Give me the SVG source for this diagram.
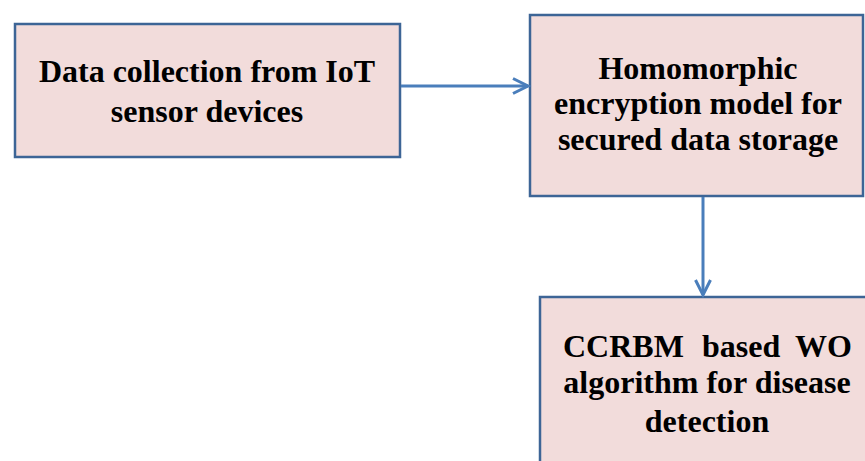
<svg xmlns="http://www.w3.org/2000/svg" width="865" height="461" viewBox="0 0 865 461">
  <style>
    .box { fill: #f2dcdb; stroke: #3d6596; stroke-width: 2.5; }
    .lbl { font-family: "Liberation Serif", "Times New Roman", serif; font-weight: bold; font-size: 32px; fill: #000; }
    .mid { text-anchor: middle; }
    .edge { fill: none; stroke: #4a7ebb; stroke-width: 3; }
  </style>
  <defs>
    <marker id="chev" markerUnits="userSpaceOnUse" markerWidth="24" markerHeight="24" viewBox="-18 -12 24 24" refX="0" refY="0" orient="auto">
      <path d="M-15,-7.5 L0,0 L-15,7.5" fill="none" stroke="#4a7ebb" stroke-width="3" stroke-linejoin="miter"/>
    </marker>
  </defs>

  <rect width="865" height="461" fill="#ffffff"/>

  <g id="node-collection">
    <rect class="box" x="15" y="24" width="385" height="133"/>
    <text class="lbl mid" x="207" y="82">Data collection from IoT</text>
    <text class="lbl mid" x="207" y="122">sensor devices</text>
  </g>

  <g id="node-encryption">
    <rect class="box" x="530" y="15" width="333" height="181"/>
    <text class="lbl mid" x="698" y="79">Homomorphic</text>
    <text class="lbl mid" x="698" y="114">encryption model for</text>
    <text class="lbl mid" x="698" y="150">secured data storage</text>
  </g>

  <g id="node-detection">
    <rect class="box" x="540" y="297" width="340" height="180"/>
    <text class="lbl" x="563" y="357">CCRBM</text>
    <text class="lbl" x="702" y="357">based</text>
    <text class="lbl" x="852" y="357" text-anchor="end">WO</text>
    <text class="lbl mid" x="707" y="393">algorithm for disease</text>
    <text class="lbl mid" x="707" y="432">detection</text>
  </g>

  <g id="connectors">
    <line class="edge" x1="401" y1="86" x2="528" y2="86" marker-end="url(#chev)"/>
    <line class="edge" x1="703" y1="197" x2="703" y2="295" marker-end="url(#chev)"/>
  </g>
</svg>
